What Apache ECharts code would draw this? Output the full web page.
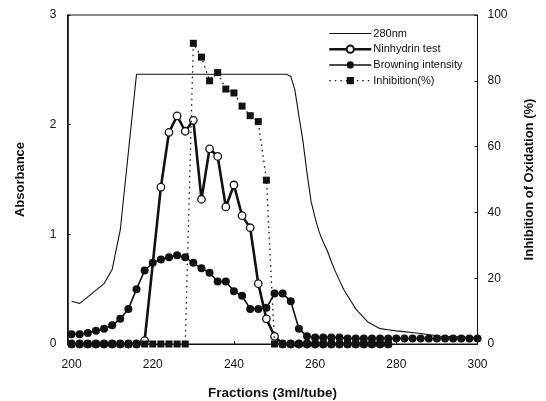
<!DOCTYPE html>
<html>
<head>
<meta charset="utf-8">
<script src="https://cdn.jsdelivr.net/npm/echarts@6/dist/echarts.min.js"></script>
<style>
  html, body { margin: 0; padding: 0; background: #fff; }
  #chart { width: 546px; height: 401px; }
</style>
</head>
<body>
<div id="chart"></div>
<script>
  // 280nm absorbance
  const uvFractions = [200, 202, 205, 208, 210, 212, 216, 253, 254, 255, 256, 257, 258, 259, 260, 261, 262, 263, 264, 265, 266, 267, 268, 269, 270, 271, 272, 273, 274, 276, 278, 280, 285, 291, 300]
  const uvAbsorbance = [0.39, 0.37, 0.46, 0.55, 0.68, 1.04, 2.46, 2.46, 2.44, 2.32, 2.08, 1.85, 1.56, 1.30, 1.15, 1.02, 0.93, 0.85, 0.75, 0.66, 0.58, 0.50, 0.44, 0.38, 0.32, 0.28, 0.24, 0.20, 0.18, 0.14, 0.13, 0.12, 0.10, 0.07, 0.06]

  // Ninhydrin test (open circles)
  const ninFractions = [200, 202, 204, 206, 208, 210, 212, 214, 216, 218, 222, 224, 226, 228, 230, 232, 234, 236, 238, 240, 242, 244, 246, 248, 250, 252, 254, 256, 258, 260, 262, 264, 266, 268, 270, 272, 274, 276, 278]
  const ninhydrin = [0, 0, 0, 0, 0, 0, 0, 0, 0, 0.03, 1.43, 1.93, 2.08, 1.94, 2.04, 1.32, 1.78, 1.71, 1.25, 1.45, 1.17, 1.06, 0.55, 0.23, 0.07, 0, 0, 0, 0, 0, 0, 0, 0, 0, 0, 0, 0, 0, 0]

  // Browning intensity (filled circles)
  const brownFractions = [200, 202, 204, 206, 208, 210, 212, 214, 216, 218, 220, 222, 224, 226, 228, 230, 232, 234, 236, 238, 240, 242, 244, 246, 248, 250, 252, 254, 256, 258, 260, 262, 264, 266, 268, 270, 272, 274, 276, 278, 280, 282, 284, 286, 288, 290, 292, 294, 296, 298, 300]
  const browning = [0.09, 0.09, 0.10, 0.12, 0.14, 0.17, 0.23, 0.32, 0.50, 0.67, 0.74, 0.77, 0.79, 0.81, 0.79, 0.74, 0.69, 0.65, 0.57, 0.57, 0.48, 0.44, 0.32, 0.32, 0.33, 0.46, 0.46, 0.39, 0.14, 0.07, 0.06, 0.06, 0.06, 0.06, 0.05, 0.05, 0.05, 0.05, 0.05, 0.05, 0.05, 0.05, 0.05, 0.05, 0.05, 0.05, 0.05, 0.05, 0.05, 0.05, 0.05]

  // Inhibition of oxidation (%), right axis
  const inhFractions = [200, 202, 204, 206, 208, 210, 212, 214, 216, 218, 220, 222, 224, 226, 228, 230, 232, 234, 236, 238, 240, 242, 244, 246, 248, 250, 252, 254, 256, 258, 260, 262, 264, 266, 268, 270, 272, 274, 276, 278]
  const inhibition = [0, 0, 0, 0, 0, 0, 0, 0, 0, 0, 0, 0, 0, 0, 0, 91.4, 87.2, 80.0, 82.5, 77.5, 76.3, 72.3, 69.4, 67.6, 49.8, 0, 0, 0, 0, 0, 0, 0, 0, 0, 0, 0, 0, 0, 0, 0]

  const xTicks = [200, 220, 240, 260, 280, 300]

  function pairs(xs, ys) {
    return xs.map((x, i) => [x, ys[i]])
  }

  const ink = '#111'
  const font = 'Liberation Sans, Arial, sans-serif'
  const dotted = [1.5, 4]

  const chart = echarts.init(document.getElementById('chart'), null, { renderer: 'canvas' })
  const option = {
    animation: false,
    textStyle: { fontFamily: font, color: ink },
    grid: {
      left: 67.5, right: 68.5, top: 15, bottom: 57,
      outerBoundsMode: 'none',
      containLabel: false,
      show: true, borderColor: ink, borderWidth: 1, backgroundColor: 'transparent'
    },
    legend: {
      orient: 'vertical',
      left: 328,
      top: 28,
      padding: 0,
      itemWidth: 42,
      itemHeight: 9,
      itemGap: 4.7,
      textStyle: { fontSize: 11, color: ink, fontFamily: font, padding: [0, 0, 0, -3] },
      data: [
        { name: '280nm', itemStyle: { opacity: 0 }, lineStyle: { width: 1 } },
        { name: 'Ninhydrin test', lineStyle: { width: 2.6 } },
        { name: 'Browning intensity', lineStyle: { width: 1.5 } },
        { name: 'Inhibition(%)', lineStyle: { width: 1.3, type: dotted } }
      ]
    },
    xAxis: {
      type: 'value',
      min: 199,
      max: 300,
      name: 'Fractions (3ml/tube)',
      nameLocation: 'middle',
      nameGap: 42,
      nameTextStyle: { fontSize: 13.5, fontWeight: 'bold', color: ink },
      axisLine: { show: true, lineStyle: { color: ink, width: 1 } },
      axisTick: { show: true, inside: true, length: 3, customValues: xTicks, lineStyle: { color: ink } },
      axisLabel: { customValues: xTicks, fontSize: 12, color: ink, margin: 15 },
      splitLine: { show: false }
    },
    yAxis: [
      {
        type: 'value',
        min: 0, max: 3, interval: 1,
        name: 'Absorbance',
        nameLocation: 'middle',
        nameGap: 41,
        nameRotate: 90,
        nameTextStyle: { fontSize: 13, fontWeight: 'bold', color: ink },
        axisLine: { show: true, lineStyle: { color: ink, width: 1.6 } },
        axisTick: { show: true, inside: true, length: 3, lineStyle: { color: ink } },
        axisLabel: { fontSize: 12, color: ink, margin: 11 },
        splitLine: { show: false }
      },
      {
        type: 'value',
        position: 'right',
        min: 0, max: 100, interval: 20,
        name: 'Inhibition of Oxidation (%)',
        nameLocation: 'middle',
        nameGap: 45,
        nameRotate: 90,
        nameTextStyle: { fontSize: 13, fontWeight: 'bold', color: ink },
        axisLine: { show: true, lineStyle: { color: ink, width: 1 } },
        axisTick: { show: true, inside: true, length: 3, lineStyle: { color: ink } },
        axisLabel: { fontSize: 12, color: ink, margin: 10 },
        splitLine: { show: false }
      }
    ],
    series: [
      {
        name: '280nm',
        type: 'line',
        data: pairs(uvFractions, uvAbsorbance),
        showSymbol: false,
        symbol: 'none',
        lineStyle: { color: ink, width: 1.1 },
        itemStyle: { color: ink }
      },
      {
        name: 'Ninhydrin test',
        type: 'line',
        data: pairs(ninFractions, ninhydrin),
        symbol: 'circle',
        symbolSize: 7.5,
        showAllSymbol: true,
        lineStyle: { color: ink, width: 2.6 },
        itemStyle: { color: '#fff', borderColor: ink, borderWidth: 1.3 },
        z: 3
      },
      {
        name: 'Browning intensity',
        type: 'line',
        data: pairs(brownFractions, browning),
        symbol: 'circle',
        symbolSize: 8,
        showAllSymbol: true,
        lineStyle: { color: ink, width: 1.6 },
        itemStyle: { color: ink },
        z: 4
      },
      {
        name: 'Inhibition(%)',
        type: 'line',
        yAxisIndex: 1,
        data: pairs(inhFractions, inhibition),
        symbol: 'rect',
        symbolSize: 7,
        showAllSymbol: true,
        lineStyle: { color: ink, width: 1.3, type: dotted },
        itemStyle: { color: ink },
        z: 5
      }
    ]
  }
  chart.setOption(option)
</script>
</body>
</html>
